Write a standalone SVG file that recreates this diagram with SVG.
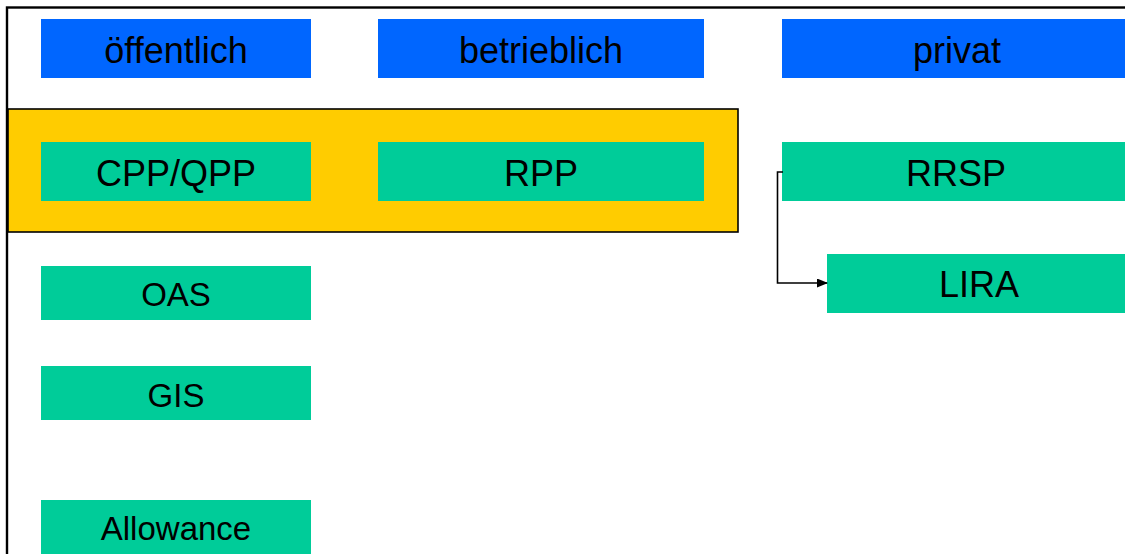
<svg xmlns="http://www.w3.org/2000/svg" width="1125" height="554" viewBox="0 0 1125 554">
<style>
.hdr{fill:#0066FF}
.box{fill:#00CC99}
.t{font-family:"Liberation Sans",Arial,sans-serif;fill:#000;text-anchor:middle}
.big{font-size:36px}
.sm{font-size:33px}
</style>
<defs>
<marker id="arr" markerWidth="11" markerHeight="9" refX="10" refY="4.5" orient="auto" markerUnits="userSpaceOnUse">
<path d="M0,0 L11,4.5 L0,9 Z" fill="#000"/>
</marker>
</defs>
<rect x="0" y="0" width="1125" height="554" fill="#fff"/>
<rect x="7" y="7.5" width="1140" height="570" fill="none" stroke="#000" stroke-width="2.4"/>
<g id="group-yellow"><rect x="8" y="109" width="730" height="123" fill="#FFCC00" stroke="#000" stroke-width="1.6"/></g>
<g id="h-oeffentlich"><rect class="hdr" x="41" y="19" width="270" height="59"/><text class="t big" x="176" y="63">öffentlich</text></g>
<g id="h-betrieblich"><rect class="hdr" x="378" y="19" width="326" height="59"/><text class="t big" x="541" y="63">betrieblich</text></g>
<g id="h-privat"><rect class="hdr" x="782" y="19" width="350" height="59"/><text class="t big" x="957" y="63">privat</text></g>
<g id="n-cpp"><rect class="box" x="41" y="142" width="270" height="59"/><text class="t big" x="176" y="185.5">CPP/QPP</text></g>
<g id="n-rpp"><rect class="box" x="378" y="142" width="326" height="59"/><text class="t big" x="541" y="185.5">RPP</text></g>
<g id="n-rrsp"><rect class="box" x="782" y="142" width="350" height="59"/><text class="t big" x="956" y="185.5">RRSP</text></g>
<g id="n-lira"><rect class="box" x="827" y="254" width="305" height="59"/><text class="t big" x="979" y="296.5">LIRA</text></g>
<g id="n-oas"><rect class="box" x="41" y="266" width="270" height="54"/><text class="t sm" x="176" y="305.5">OAS</text></g>
<g id="n-gis"><rect class="box" x="41" y="366" width="270" height="54"/><text class="t sm" x="176" y="406.5">GIS</text></g>
<g id="n-allowance"><rect class="box" x="41" y="500" width="270" height="54"/><text class="t sm" x="176" y="540">Allowance</text></g>
<g id="connectors">
<path d="M783,172 H777.5 V283 H827" fill="none" stroke="#000" stroke-width="1.6" marker-end="url(#arr)"/>
</g>
</svg>
